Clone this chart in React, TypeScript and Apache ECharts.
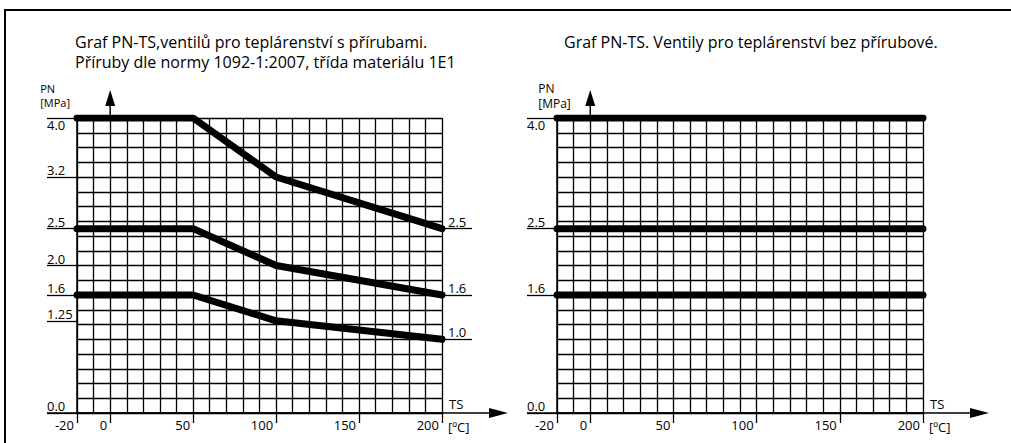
import React, { useEffect, useRef } from 'react';
import * as echarts from 'echarts';

// ---- data ----
const tempStops = [-20, 50, 100, 200];
const pn40Flanged = [4.0, 4.0, 3.2, 2.5];
const pn25Flanged = [2.5, 2.5, 2.0, 1.6];
const pn16Flanged = [1.6, 1.6, 1.25, 1.0];

const flatStops = [-20, 200];
const pn40Flangeless = [4.0, 4.0];
const pn25Flangeless = [2.5, 2.5];
const pn16Flangeless = [1.6, 1.6];

const xTickLabels = [-20, 0, 50, 100, 150, 200];
const leftYLabelsFlanged = [3.2, 2.5, 2.0, 1.6, 1.25, 0.0];
const leftYLabelsFlangeless = [2.5, 1.6, 0.0];
const topYLabel = [4.0];
const endYLabelsFlanged = [2.5, 1.6, 1.0];

const titleFlanged = 'Graf PN-TS,ventilů pro teplárenství s přírubami.\nPříruby dle normy 1092-1:2007, třída materiálu 1E1';
const titleFlangeless = 'Graf PN-TS. Ventily pro teplárenství bez přírubové.';
const yName = ['PN', '[MPa]'];
const xName = ['TS', '[ºC]'];

const FONT = 'Open Sans';
const BLACK = '#000';
const GRID_W = 1.3;
const LABEL_SIZE = 13;

const fmt = (v: number) => (Math.round(v * 10) === v * 10 ? v.toFixed(1) : String(v));
const zip = (xs: number[], ys: number[]) => xs.map((x, i) => [x, ys[i]]);

function xGridAxis(gridIndex: number) {
  return {
    type: 'value', gridIndex, min: -20, max: 200, interval: 10, position: 'bottom', offset: 0,
    axisLine: { show: true, onZero: false, lineStyle: { color: BLACK, width: 1.5 } },
    axisTick: { show: false }, axisLabel: { show: false },
    splitLine: { show: true, lineStyle: { color: BLACK, width: GRID_W } },
  };
}
function xLabelAxis(gridIndex: number) {
  return {
    type: 'value', gridIndex, min: -20, max: 200, interval: 10, position: 'bottom', offset: 0,
    axisLine: { show: false, onZero: false },
    axisTick: { show: true, customValues: xTickLabels, length: 10, lineStyle: { color: BLACK, width: 1.3 } },
    axisLabel: {
      show: true, customValues: xTickLabels, align: 'right', padding: [0, 3, 0, 0], margin: 5,
      color: BLACK, fontSize: LABEL_SIZE, fontFamily: FONT,
    },
    splitLine: { show: false },
  };
}
function yGridAxis(gridIndex: number) {
  return {
    type: 'value', gridIndex, min: 0, max: 4, interval: 0.2, position: 'left', offset: 0,
    axisLine: { show: true, onZero: false, lineStyle: { color: BLACK, width: 1.5 } },
    axisTick: { show: false }, axisLabel: { show: false },
    splitLine: { show: true, lineStyle: { color: BLACK, width: GRID_W } },
  };
}
function yLabelAxis(gridIndex: number, labels: number[], position: string, vAlign: string, margin: number) {
  return {
    type: 'value', gridIndex, min: 0, max: 4, interval: 0.2, position, offset: 0,
    axisLine: { show: false, onZero: false },
    axisTick: { show: true, customValues: labels, length: 30, lineStyle: { color: BLACK, width: 1.3 } },
    axisLabel: {
      show: true, customValues: labels, formatter: fmt, align: 'left', verticalAlign: vAlign, margin,
      color: BLACK, fontSize: LABEL_SIZE, lineHeight: 14, fontFamily: FONT,
    },
    splitLine: { show: false },
  };
}

function thick(name: string, xi: number, yi: number, xs: number[], ys: number[]) {
  return {
    name, type: 'line', xAxisIndex: xi, yAxisIndex: yi, data: zip(xs, ys), symbol: 'none',
    lineStyle: { color: BLACK, width: 7, cap: 'round', join: 'round' }, z: 5,
  };
}

// per-chart placement of the PN/MPa caption (styling)
const captionLayout = [
  { dx: -70, fontSize: 11 },
  { dx: -52, fontSize: 12 },
];

export default function App() {
  const ref = useRef<HTMLDivElement>(null);
  useEffect(() => {
    if (!ref.current) return;
    const chart = echarts.init(ref.current, undefined, { renderer: 'svg' });
    const titleStyle = { fontSize: 16, lineHeight: 20, fontWeight: 'normal', color: BLACK, fontFamily: FONT };
    chart.setOption({
      animation: false,
      backgroundColor: '#fff',
      title: [
        { text: titleFlanged, left: 75, top: 32, padding: 0, textStyle: titleStyle },
        { text: titleFlangeless, left: 564, top: 32, padding: 0, textStyle: titleStyle },
      ],
      grid: [
        { left: 77, top: 118, width: 365, height: 295, outerBoundsMode: 'none', containLabel: false },
        { left: 557, top: 118, width: 366, height: 295, outerBoundsMode: 'none', containLabel: false },
      ],
      xAxis: [xGridAxis(0), xLabelAxis(0), xGridAxis(1), xLabelAxis(1)],
      yAxis: [
        yGridAxis(0),
        yLabelAxis(0, leftYLabelsFlanged, 'left', 'bottom', 30),
        yLabelAxis(0, topYLabel, 'left', 'top', 30),
        yLabelAxis(0, endYLabelsFlanged, 'right', 'bottom', 6),
        yGridAxis(1),
        yLabelAxis(1, leftYLabelsFlangeless, 'left', 'bottom', 30),
        yLabelAxis(1, topYLabel, 'left', 'top', 30),
      ],
      series: [
        thick('PN40', 0, 0, tempStops, pn40Flanged),
        thick('PN25', 0, 0, tempStops, pn25Flanged),
        thick('PN16', 0, 0, tempStops, pn16Flanged),
        thick('PN40 b', 2, 4, flatStops, pn40Flangeless),
        thick('PN25 b', 2, 4, flatStops, pn25Flangeless),
        thick('PN16 b', 2, 4, flatStops, pn16Flangeless),
      ],
    });

    const graphics: any[] = [
      { type: 'polyline', shape: { points: [[5, 443], [5, 10], [1011, 10]] }, style: { stroke: BLACK, lineWidth: 2, fill: 'none' } },
    ];
    [0, 1].forEach((g) => {
      const px = (v: number[]) => chart.convertToPixel({ gridIndex: g }, v) as number[];
      const pStart = px([-20, 0]);
      const pEnd = px([200, 0]);
      const pOrigin = px([0, 0]);
      const pTop = px([0, 4]);
      const ax = pOrigin[0];
      const y0 = pStart[1];
      const cap = captionLayout[g];
      graphics.push(
        { type: 'line', shape: { x1: pStart[0] - 30, y1: y0, x2: pEnd[0] + 50, y2: y0 }, style: { stroke: BLACK, lineWidth: 1.5 } },
        { type: 'polygon', shape: { points: [[pEnd[0] + 47, y0 - 5], [pEnd[0] + 66, y0], [pEnd[0] + 47, y0 + 5]] }, style: { fill: BLACK } },
        { type: 'line', shape: { x1: ax, y1: pTop[1], x2: ax, y2: pTop[1] - 14 }, style: { stroke: BLACK, lineWidth: 1.5 } },
        { type: 'polygon', shape: { points: [[ax - 5, pTop[1] - 12], [ax, pTop[1] - 28], [ax + 5, pTop[1] - 12]] }, style: { fill: BLACK } },
        { type: 'text', style: { text: yName[0], x: ax + cap.dx, y: pTop[1] - 24, fill: BLACK, fontSize: cap.fontSize, fontFamily: FONT, align: 'left', verticalAlign: 'bottom' } },
        { type: 'text', style: { text: yName[1], x: ax + cap.dx, y: pTop[1] - 21, fill: BLACK, fontSize: cap.fontSize, fontFamily: FONT, align: 'left', verticalAlign: 'top' } },
        { type: 'text', style: { text: xName[0], x: pEnd[0] + 7, y: y0 - 9, fill: BLACK, fontSize: LABEL_SIZE, fontFamily: FONT, align: 'left', verticalAlign: 'middle' } },
        { type: 'text', style: { text: xName[1], x: pEnd[0] + 6, y: y0 + 14, fill: BLACK, fontSize: LABEL_SIZE, fontFamily: FONT, align: 'left', verticalAlign: 'middle' } },
      );
    });
    chart.setOption({ graphic: graphics });

    return () => chart.dispose();
  }, []);
  return <div ref={ref} style={{ position: 'fixed', left: 0, top: 0, width: 1011, height: 443 }} />;
}
